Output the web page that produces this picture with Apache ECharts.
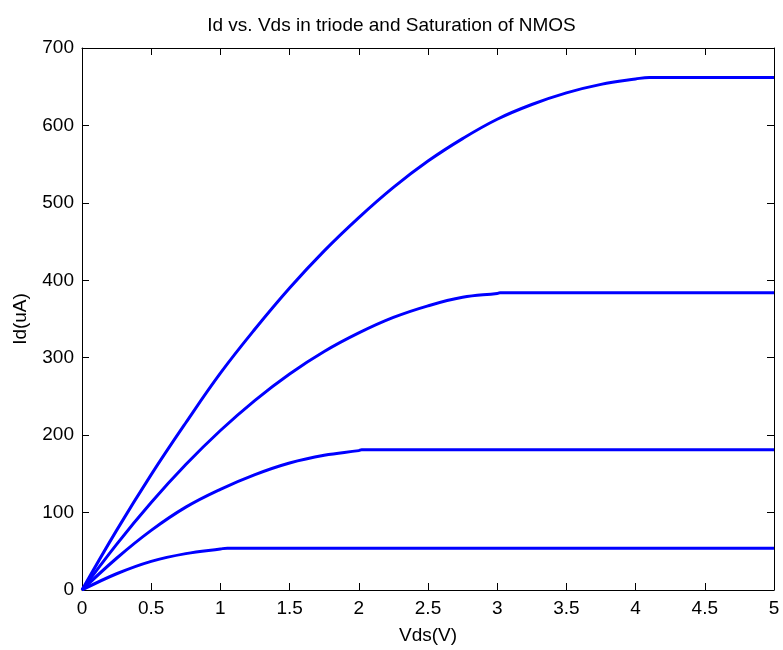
<!DOCTYPE html>
<html>
<head>
<meta charset="utf-8">
<title>Id vs. Vds</title>
<script src="https://cdn.jsdelivr.net/npm/echarts@6/dist/echarts.min.js"></script>
<style>
  html, body { margin: 0; padding: 0; background: #fff; }
  #main { width: 783px; height: 650px; }
</style>
</head>
<body>
<div id="main"></div>
<script>
// values (Vds in V, Id in uA)
var vds1 = [0, 0.25, 0.5, 0.75, 1, 1.25, 1.5, 1.75, 2, 2.25, 2.5, 2.75, 3, 3.25, 3.5, 3.75, 4, 4.1, 5];
var id1  = [0, 77, 149, 216, 280, 337, 390, 438, 481, 520, 554, 583, 608, 627, 642, 653, 660, 662, 662];

var vds2 = [0, 0.25, 0.5, 0.75, 1, 1.25, 1.5, 1.75, 2, 2.25, 2.5, 2.75, 3, 3.02, 5];
var id2  = [0, 59, 113, 162, 206, 245, 279, 308, 332, 352, 367, 378, 383, 384, 384];

var vds3 = [0, 0.25, 0.5, 0.75, 1, 1.25, 1.5, 1.75, 2, 2.02, 5];
var id3  = [0, 41, 77, 107, 130, 149, 164, 174, 180, 181, 181];

var vds4 = [0, 0.25, 0.5, 0.75, 1, 1.05, 5];
var id4  = [0, 21, 37, 47, 53, 54, 54];

var xTicks = { min: 0, max: 5, step: 0.5 };
var yTicks = { min: 0, max: 700, step: 100 };

function pairs(xs, ys) {
    var out = [];
    for (var i = 0; i < xs.length; i++) {
        out.push([xs[i], ys[i]]);
    }
    return out;
}

var font = "'Liberation Sans', Arial, Helvetica, sans-serif";
var black = '#000';

function axisBase(extra) {
    var a = {
        type: 'value',
        splitLine: { show: false },
        axisLine: { show: true, onZero: false, lineStyle: { color: black, width: 1 } },
        axisTick: { show: true, inside: true, length: 7, lineStyle: { color: black } },
        axisLabel: { show: false }
    };
    for (var k in extra) a[k] = extra[k];
    return a;
}

var myChart = echarts.init(document.getElementById('main'), null, { renderer: 'canvas' });

function curve(xs, ys) {
    return {
        type: 'line',
        data: pairs(xs, ys),
        showSymbol: false,
        smooth: 0.4,
        lineStyle: { color: '#0000ff', width: 3 },
        itemStyle: { color: '#0000ff' },
        animation: false
    };
}

var option = {
    backgroundColor: '#fff',
    animation: false,
    title: {
        text: 'Id vs. Vds in triode and Saturation of NMOS',
        left: 'center',
        top: 11,
        textStyle: { fontFamily: font, fontSize: 19, fontWeight: 'normal', color: black }
    },
    grid: { left: 82, right: 9, top: 48, bottom: 57, containLabel: false },
    xAxis: [
        axisBase({
            min: xTicks.min, max: xTicks.max, interval: xTicks.step,
            position: 'bottom',
            axisLabel: { show: true, margin: 9, color: black, fontFamily: font, fontSize: 19 },
            name: 'Vds(V)',
            nameLocation: 'middle',
            nameGap: 36,
            nameTextStyle: { color: black, fontFamily: font, fontSize: 19 }
        }),
        axisBase({ min: xTicks.min, max: xTicks.max, interval: xTicks.step, position: 'top' })
    ],
    yAxis: [
        axisBase({
            min: yTicks.min, max: yTicks.max, interval: yTicks.step,
            position: 'left',
            axisLabel: { show: true, margin: 8, color: black, fontFamily: font, fontSize: 19 },
            name: 'Id(uA)',
            nameLocation: 'middle',
            nameGap: 52,
            nameTextStyle: { color: black, fontFamily: font, fontSize: 19 }
        }),
        axisBase({ min: yTicks.min, max: yTicks.max, interval: yTicks.step, position: 'right' })
    ],
    series: [
        curve(vds1, id1),
        curve(vds2, id2),
        curve(vds3, id3),
        curve(vds4, id4)
    ]
};

myChart.setOption(option);
</script>
</body>
</html>
